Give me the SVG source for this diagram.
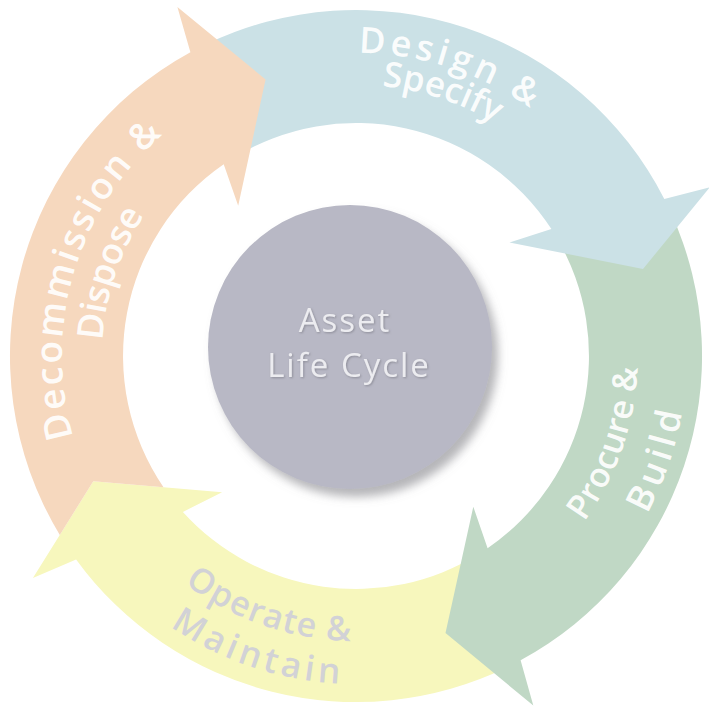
<svg xmlns="http://www.w3.org/2000/svg" width="709" height="709" viewBox="0 0 709 709">
<style>
.lbl{font-family:"Open Sans","Liberation Sans",sans-serif;font-weight:600;fill:#ffffff;fill-opacity:0.93}
.grey{fill:#d2d2d6;fill-opacity:1}
.ctr{font-family:"Open Sans","Liberation Sans",sans-serif;font-size:33px;font-weight:500;fill:#ececf0;text-anchor:middle;letter-spacing:2px}
</style>
<defs>
<filter id="sh" x="-20%" y="-20%" width="150%" height="150%">
<feDropShadow dx="6" dy="8" stdDeviation="5" flood-color="#7a7a80" flood-opacity="0.55"/>
</filter>
<filter id="tsh" x="-10%" y="-20%" width="120%" height="150%">
<feDropShadow dx="1" dy="1" stdDeviation="0.8" flood-color="#70707a" flood-opacity="0.6"/>
</filter>
<path id="pDes1" d="M358.6,53 A303,303 0 0 1 640.7,252.4"/>
<path id="pDes2" d="M382,86.2 A271,271 0 0 1 610.7,263.3"/>
<path id="pPro1" d="M584.1,521.8 A282,282 0 0 0 633.7,307"/>
<path id="pPro2" d="M646.9,514 A331,331 0 0 0 682,298.5"/>
<path id="pOpe1" d="M184.5,583.6 A285,285 0 0 0 405.5,636.7"/>
<path id="pOpe2" d="M170.2,626.3 A328,328 0 0 0 413,679"/>
<path id="pDec1" d="M73.4,437 A294,294 0 0 1 255.5,79.7"/>
<path id="pDec2" d="M102.5,340.5 A254,254 0 0 1 269.1,117.3"/>
</defs>
<rect width="709" height="709" fill="#ffffff"/>
<g id="connectors">
<g id="operate">
<path fill="#f7f7bd" d="M479.1,553.8 L507.1,667.3 A346,346 0 0 1 76.1,559.4 L32.9,578 L93.3,481.3 L222.1,492.2 L182.9,511.9 A233,233 0 0 0 479.1,553.8 Z"/>
<text class="lbl grey" font-size="34" letter-spacing="1.2"><textPath href="#pOpe1">Operate &amp;</textPath></text>
<text class="lbl grey" font-size="35" letter-spacing="4.3"><textPath href="#pOpe2">Maintain</textPath></text>
</g>
<g id="procure">
<path fill="#c0d8c5" d="M556.8,237.8 L670.9,212.5 A346,346 0 0 1 520.6,660.3 L533.3,705.6 L445.5,632.9 L473.3,506.7 L487.6,548.2 A233,233 0 0 0 556.8,237.8 Z"/>
<text class="lbl" font-size="34" letter-spacing="0.3"><textPath href="#pPro1">Procure &amp;</textPath></text>
<text class="lbl" font-size="36" letter-spacing="4.7"><textPath href="#pPro2">Build</textPath></text>
</g>
<g id="design">
<path fill="#cbe1e6" d="M232.2,158.6 L203.8,45.3 A346,346 0 0 1 664.3,198.9 L709.8,187.2 L643,269 L509.5,242.4 L551.4,229.1 A233,233 0 0 0 232.2,158.6 Z"/>
<text class="lbl" font-size="36" letter-spacing="4.2"><textPath href="#pDes1">Design &amp;</textPath></text>
<text class="lbl" font-size="35" letter-spacing="0"><textPath href="#pDes2">Specify</textPath></text>
</g>
<g id="decommission">
<path fill="#f6d8be" d="M59.8,534.9 L93.3,481.3 L163.5,487.2 A233,233 0 0 1 223.7,164.2 L238.2,205.7 L265.6,79.4 L177.4,7 L190.4,52.2 A346,346 0 0 0 59.8,534.9 Z"/>
<text class="lbl" font-size="37" letter-spacing="2.5"><textPath href="#pDec1">Decommission &amp;</textPath></text>
<text class="lbl" font-size="36" letter-spacing="-0.5"><textPath href="#pDec2">Dispose</textPath></text>
</g>
</g>
<g id="center">
<circle cx="350" cy="347" r="142" fill="#b8b8c5" filter="url(#sh)"/>
<g filter="url(#tsh)">
<text class="ctr" x="345" y="332">Asset</text>
<text class="ctr" x="349" y="377">Life Cycle</text>
</g>
</g>
</svg>
